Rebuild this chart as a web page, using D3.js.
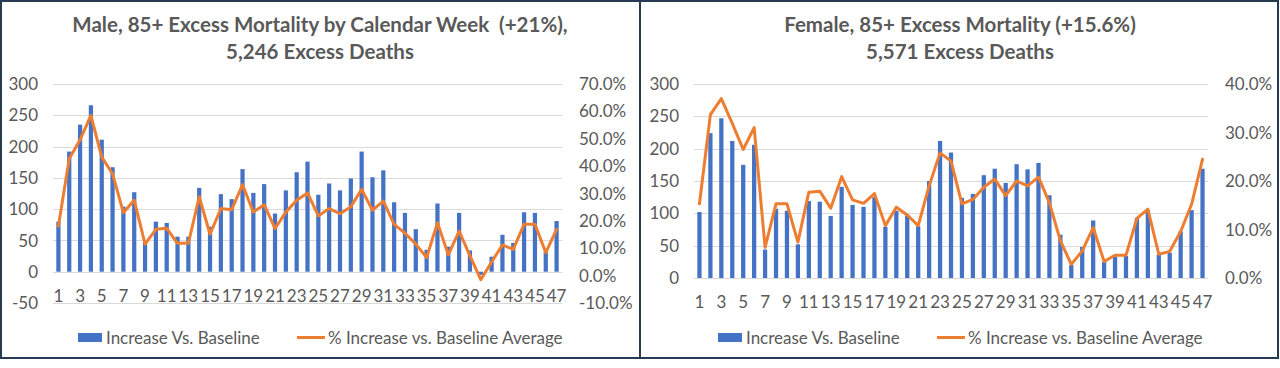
<!DOCTYPE html>
<html>
<head>
<meta charset="utf-8">
<script src="https://cdn.jsdelivr.net/npm/d3@7"></script>
<style>
  html, body { margin: 0; padding: 0; background: #ffffff; }
  svg { display: block; }
  text { font-family: Lato, "Open Sans", sans-serif; fill: #595959; white-space: pre; }
</style>
</head>
<body>
<svg id="chart" width="1280" height="368"></svg>
<script>
// ---- Data ----
const weeks = [1,2,3,4,5,6,7,8,9,10,11,12,13,14,15,16,17,18,19,20,21,22,23,24,25,26,27,28,29,30,31,32,33,34,35,36,37,38,39,40,41,42,43,44,45,46,47];

const maleIncrease = [80,192,235,266,211,167,104,127,47,80, 78,56,56,134,72,124,116,164,126,140, 93,130,159,176,123,141,130,149,192,151, 162,111,94,68,35,109,40,94,34,-5, 24,59,46,95,94,32,81];
const malePct = [18.1,42.7,49.6,58.5,43.3,37.2,23.0,27.6,11.5,16.9, 17.3,11.8,11.8,28.8,15.1,24.5,24.1,33.2,23.2,25.9, 17.2,23.2,27.5,30.2,21.8,24.5,22.6,25.2,31.5,23.9, 27.2,18.7,15.5,11.5,6.6,19.3,7.6,16.3,7.2,-1.5, 5.0,11.2,9.6,18.8,18.8,8.4,16.9];

const femaleIncrease = [102,224,247,212,175,206,44,107,104,52, 119,118,96,141,113,110,125,79,104,97, 80,150,212,194,124,130,159,169,147,176, 168,178,128,67,20,48,89,25,33,34, 93,105,36,39,72,105,169];
const femalePct = [15.3,33.7,37.0,31.9,26.5,31.0,6.3,15.3,15.3,7.4, 17.7,17.9,14.4,20.9,16.1,15.4,17.4,10.8,14.6,13.0, 10.8,19.0,25.8,24.1,15.3,16.2,18.7,20.4,17.0,20.0, 19.0,20.8,15.5,7.7,2.8,5.6,10.4,3.4,4.7,4.7, 12.3,14.2,4.9,5.5,9.6,15.2,24.5];

const maleLeftTicks = [-50,0,50,100,150,200,250,300];
const maleRightTicks = [-10,0,10,20,30,40,50,60,70];
const femaleLeftTicks = [0,50,100,150,200,250,300];
const femaleRightTicks = [0,10,20,30,40];
const weekLabels = [1,3,5,7,9,11,13,15,17,19,21,23,25,27,29,31,33,35,37,39,41,43,45,47];

const maleTitle = ["Male, 85+ Excess Mortality by Calendar Week  (+21%),", "5,246 Excess Deaths"];
const femaleTitle = ["Female, 85+ Excess Mortality (+15.6%)", "5,571 Excess Deaths"];
const legendLabels = ["Increase Vs. Baseline", "% Increase vs. Baseline Average"];

// ---- Drawing ----
const svg = d3.select("#chart");
const BAR = "#4472C4", LINE = "#ED7D31", GRID = "#D9D9D9", BORDER = "#263A52";

function panel(o) {
  const g = svg.append("g").attr("transform", `translate(${o.ox},0)`);

  // titles
  g.append("text").attr("x", 320).attr("y", 32).attr("text-anchor", "middle")
    .attr("font-weight", "bold").attr("font-size", 20.5).text(o.title[0]);
  g.append("text").attr("x", 320).attr("y", 59).attr("text-anchor", "middle")
    .attr("font-weight", "bold").attr("font-size", 20.5).text(o.title[1]);

  const x = d3.scaleBand().domain(weeks).range([o.x0, o.x1]).paddingInner(0.61).paddingOuter(0.305);
  const y = d3.scaleLinear().domain(o.yDom).range([o.yB, o.yT]);
  const y2 = d3.scaleLinear().domain(o.y2Dom).range([o.yB, o.yT]);

  // gridlines
  g.append("g").selectAll("line").data(o.leftTicks).join("line")
    .attr("x1", o.x0).attr("x2", o.x1)
    .attr("y1", d => Math.round(y(d)) + 0.5).attr("y2", d => Math.round(y(d)) + 0.5)
    .attr("stroke", GRID).attr("stroke-width", 1);

  // left axis labels
  g.append("g").selectAll("text").data(o.leftTicks).join("text")
    .attr("x", o.x0 - 15).attr("y", d => y(d)).attr("dy", "0.36em")
    .attr("text-anchor", "end").attr("font-size", 17).text(d => d);

  // right axis labels
  g.append("g").selectAll("text").data(o.rightTicks).join("text")
    .attr("x", o.x1 + 17).attr("y", d => y2(d)).attr("dy", "0.36em")
    .attr("text-anchor", "start").attr("font-size", 17).text(d => d.toFixed(1) + "%");

  // bars
  g.append("g").selectAll("rect").data(o.bars).join("rect")
    .attr("x", (d, i) => x(weeks[i]))
    .attr("width", x.bandwidth())
    .attr("y", d => Math.min(y(d), y(0)))
    .attr("height", d => Math.abs(y(d) - y(0)))
    .attr("fill", BAR);

  // line
  const line = d3.line().x((d, i) => x(weeks[i]) + x.bandwidth() / 2).y(d => y2(d));
  g.append("path").datum(o.pct).attr("d", line)
    .attr("fill", "none").attr("stroke", LINE).attr("stroke-width", 3)
    .attr("stroke-linejoin", "round").attr("stroke-linecap", "round");

  // x labels
  g.append("g").selectAll("text").data(weekLabels).join("text")
    .attr("x", d => x(d) + x.bandwidth() / 2).attr("y", y(0) + 24).attr("dy", "0.36em")
    .attr("text-anchor", "middle").attr("font-size", 17).text(d => d);

  // legend
  const lg = g.append("g");
  lg.append("rect").attr("x", 78).attr("y", 333).attr("width", 24).attr("height", 9).attr("fill", BAR);
  lg.append("text").attr("x", 106).attr("y", 337.5).attr("dy", "0.36em").attr("font-size", 17).text(legendLabels[0]);
  lg.append("line").attr("x1", 297).attr("x2", 325).attr("y1", 337.5).attr("y2", 337.5)
    .attr("stroke", LINE).attr("stroke-width", 3);
  lg.append("text").attr("x", 328).attr("y", 337.5).attr("dy", "0.36em").attr("font-size", 17).text(legendLabels[1]);
}

panel({ ox: 0, title: maleTitle, x0: 53, x1: 562, yT: 84, yB: 303,
  yDom: [-50, 300], y2Dom: [-10, 70], leftTicks: maleLeftTicks, rightTicks: maleRightTicks,
  bars: maleIncrease, pct: malePct });

panel({ ox: 640, title: femaleTitle, x0: 54, x1: 568, yT: 84, yB: 278,
  yDom: [0, 300], y2Dom: [0, 40], leftTicks: femaleLeftTicks, rightTicks: femaleRightTicks,
  bars: femaleIncrease, pct: femalePct });

// borders
svg.append("rect").attr("x", 1).attr("y", 1).attr("width", 639).attr("height", 357)
  .attr("fill", "none").attr("stroke", BORDER).attr("stroke-width", 2);
svg.append("rect").attr("x", 640).attr("y", 1).attr("width", 638).attr("height", 357)
  .attr("fill", "none").attr("stroke", BORDER).attr("stroke-width", 2);
</script>
</body>
</html>
